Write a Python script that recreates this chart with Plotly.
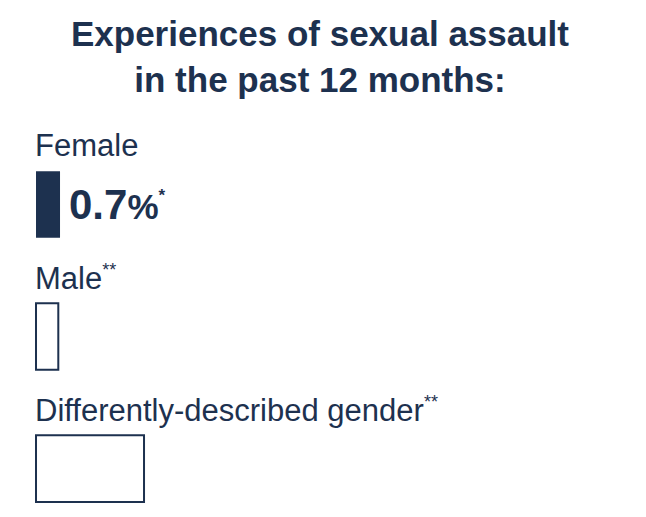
"""
Experiences of sexual assault in the past 12 months, by gender
"""
import plotly.graph_objs as go

NAVY = '#1d314f'
FONT = 'Liberation Sans, Arial, sans-serif'

# data
categories = ['Female', 'Male', 'Differently-described gender']
label_notes = ['', '**', '**']
values = [0.7, None, None]          # published estimates (%)
value_notes = ['*', '', '']
# suppressed estimates are drawn as empty outline boxes
placeholder = [None, 0.65, 3.15]

ypos = list(range(len(categories)))

fig = go.Figure()

# filled bars for published values
fig.add_trace(go.Bar(
    y=[y for y, v in zip(ypos, values) if v is not None],
    x=[v for v in values if v is not None],
    orientation='h',
    width=0.505,
    marker=dict(color=NAVY, line=dict(width=0)),
    hoverinfo='skip'
))

# outline boxes for suppressed values
fig.add_trace(go.Bar(
    y=[y for y, p in zip(ypos, placeholder) if p is not None],
    x=[p for p in placeholder if p is not None],
    orientation='h',
    width=0.505,
    marker=dict(color='white', line=dict(color=NAVY, width=2)),
    hoverinfo='skip'
))

# category labels above each bar
for y, cat, note in zip(ypos, categories, label_notes):
    txt = cat
    if note:
        txt += f"<sup><span style='font-size:18px'>{note}</span></sup>"
    fig.add_annotation(
        x=0, y=y - 0.447, xref='x', yref='y',
        text=txt, showarrow=False,
        xanchor='left', yanchor='middle', xshift=-3,
        font=dict(family=FONT, size=31, color=NAVY)
    )

# value labels
for y, v, note in zip(ypos, values, value_notes):
    if v is None:
        continue
    txt = (f"<b>{v:.1f}<span style='font-size:35px'>%</span>"
           f"<sup><span style='font-size:17px'>{note}</span></sup></b>")
    fig.add_annotation(
        x=v, y=y, xref='x', yref='y',
        text=txt, showarrow=False,
        xanchor='left', yanchor='middle', xshift=7,
        font=dict(family=FONT, size=42, color=NAVY)
    )

fig.update_layout(
    title=dict(
        text='<b>Experiences of sexual assault<br>in the past 12 months:</b>',
        x=320 / 646, xref='container', xanchor='center',
        y=1 - 46 / 517, yref='container', yanchor='top',
        font=dict(family=FONT, size=35, color=NAVY)
    ),
    width=646,
    height=517,
    margin=dict(l=20, r=10, t=110, b=0),
    paper_bgcolor='white',
    plot_bgcolor='white',
    showlegend=False,
    barmode='overlay',
    xaxis=dict(range=[-0.467, 17.498], visible=False, fixedrange=True),
    yaxis=dict(range=[2.367, -0.716], visible=False, fixedrange=True)
)

fig.write_html(
    'out.html',
    config={'displayModeBar': False},
    post_script="document.body.style.margin='0';"
)
